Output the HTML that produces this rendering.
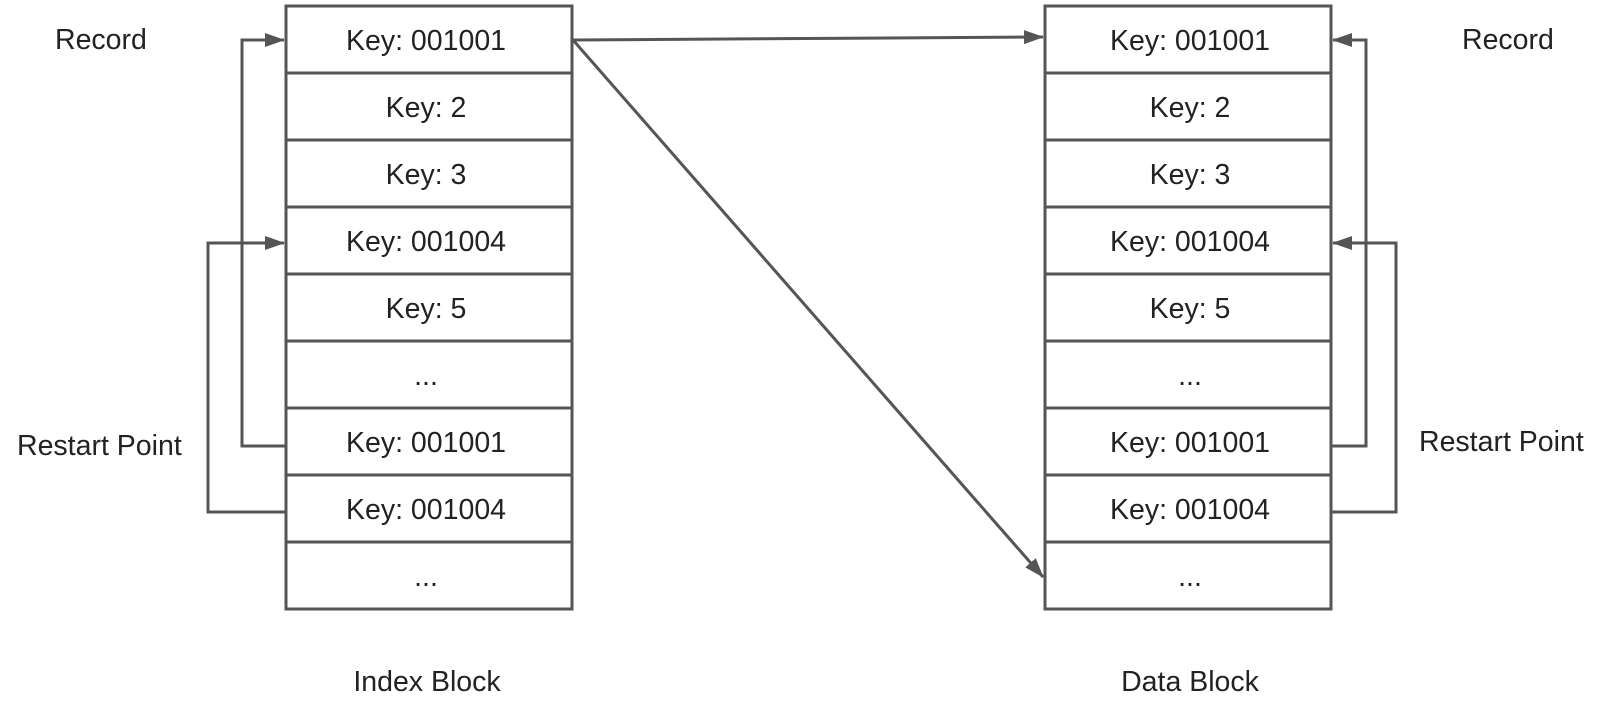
<!DOCTYPE html>
<html><head><style>
body{margin:0;background:#fff;}
svg text{font-family:"Liberation Sans",sans-serif;font-size:28.5px;fill:#222;}
</style></head><body>
<svg width="1606" height="718" viewBox="0 0 1606 718" xmlns="http://www.w3.org/2000/svg">
<defs><marker id="b" markerWidth="20" markerHeight="14" refX="19" refY="7" orient="auto" markerUnits="userSpaceOnUse"><path d="M0,0 L20,7 L0,14 z" fill="#555"/></marker></defs>
<g stroke="#555" stroke-width="3" fill="none">
<rect x="286" y="6" width="286" height="603"/>
<rect x="1045" y="6" width="286" height="603"/>
<path d="M286 73H572M286 140H572M286 207H572M286 274H572M286 341H572M286 408H572M286 475H572M286 542H572"/>
<path d="M1045 73H1331M1045 140H1331M1045 207H1331M1045 274H1331M1045 341H1331M1045 408H1331M1045 475H1331M1045 542H1331"/>
<path d="M286 446H242V40H284" marker-end="url(#b)"/>
<path d="M286 512H208V243H284" marker-end="url(#b)"/>
<path d="M1331 446H1366V40H1333" marker-end="url(#b)"/>
<path d="M1331 512H1396V243H1333" marker-end="url(#b)"/>
<path d="M573 40L1043 37" marker-end="url(#b)"/>
<path d="M573 40L1043 577" marker-end="url(#b)"/>
</g>
<g text-anchor="middle">
<text x="426" y="50">Key: 001001</text><text x="426" y="117">Key: 2</text><text x="426" y="184">Key: 3</text><text x="426" y="251">Key: 001004</text><text x="426" y="318">Key: 5</text><text x="426" y="385">...</text><text x="426" y="452">Key: 001001</text><text x="426" y="519">Key: 001004</text><text x="426" y="586">...</text>
<text x="1190" y="50">Key: 001001</text><text x="1190" y="117">Key: 2</text><text x="1190" y="184">Key: 3</text><text x="1190" y="251">Key: 001004</text><text x="1190" y="318">Key: 5</text><text x="1190" y="385">...</text><text x="1190" y="452">Key: 001001</text><text x="1190" y="519">Key: 001004</text><text x="1190" y="586">...</text>
<text x="427" y="691">Index Block</text><text x="1190" y="691">Data Block</text>
</g>
<text x="55" y="49">Record</text><text x="1462" y="49">Record</text>
<text x="17" y="455">Restart Point</text><text x="1419" y="451">Restart Point</text>
</svg>
</body></html>
